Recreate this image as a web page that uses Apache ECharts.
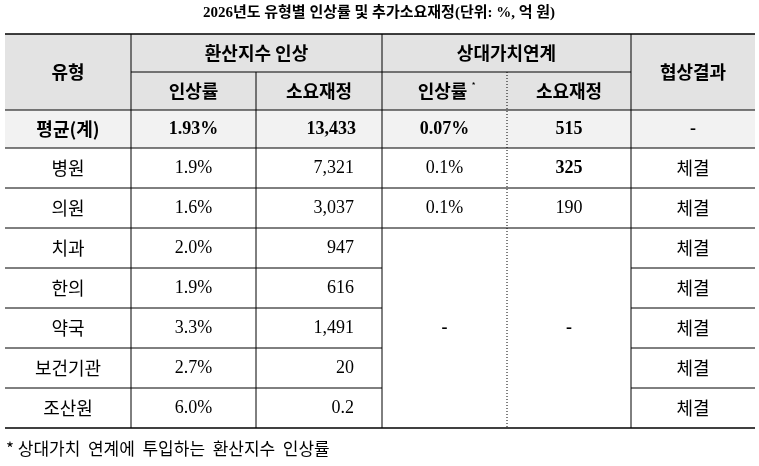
<!DOCTYPE html>
<html><head><meta charset="utf-8">
<script src="https://cdn.jsdelivr.net/npm/echarts@6/dist/echarts.min.js"></script>
<style>html,body{margin:0;background:#fff}#c{width:759px;height:466px}</style>
</head><body><div id="c"></div>
<script>
var title = '2026년도 유형별 인상률 및 추가소요재정(단위: %, 억 원)';
var types = ['병원', '의원', '치과', '한의', '약국', '보건기관', '조산원'];
var rates = ['1.9%', '1.6%', '2.0%', '1.9%', '3.3%', '2.7%', '6.0%'];
var costs = ['7,321', '3,037', '947', '616', '1,491', '20', '0.2'];
var relRates = ['0.1%', '0.1%'];
var relCosts = ['325', '190'];
var results = ['체결', '체결', '체결', '체결', '체결', '체결', '체결'];
var avg = ['평균(계)', '1.93%', '13,433', '0.07%', '515', '-'];
var footnote = '* 상대가치  연계에  투입하는  환산지수  인상률';

var colX = [5, 131, 256, 382, 507, 631, 755];
var rowY = [34, 72, 110, 148, 188, 228, 268, 308, 348, 388, 428];
var KR = '"Noto Sans CJK KR", sans-serif';
var SERIF = '"Liberation Serif", serif';
var els = [];
function rect(x, y, w, h, fill) { els.push({type: 'rect', shape: {x: x, y: y, width: w, height: h}, style: {fill: fill}}); }
function line(x1, y1, x2, y2, w, dash) { els.push({type: 'line', shape: {x1: x1, y1: y1, x2: x2, y2: y2}, style: {stroke: '#000', lineWidth: w || 1, lineDash: dash || null}}); }
function text(t, x, y, opt) {
  opt = opt || {};
  els.push({type: 'text', x: x, y: y, style: {text: t, fill: '#000', align: opt.align || 'center', verticalAlign: 'middle',
    font: (opt.bold ? 'bold ' : '') + (opt.size || 18) + 'px ' + (opt.font || KR)}});
}
function mid(i) { return (colX[i] + colX[i + 1]) / 2; }

// backgrounds
rect(5, 34, 750, 76, '#e3e3e3');
rect(5, 110, 750, 38, '#f2f2f2');

// title
text(title, 379, 13, {bold: true, size: 15, font: SERIF + ', ' + KR});

// header
text('유형', mid(0), 72, {bold: true});
text('환산지수 인상', (colX[1] + colX[3]) / 2, 53, {bold: true});
text('상대가치연계', (colX[3] + colX[5]) / 2, 53, {bold: true});
text('협상결과', mid(5), 72, {bold: true});
text('인상률', mid(1), 91, {bold: true});
text('소요재정', mid(2), 91, {bold: true});
text('인상률', mid(3) - 2, 91, {bold: true});
text('*', mid(3) + 29, 86, {size: 9});
text('소요재정', mid(4), 91, {bold: true});

// average row
var ay = 129;
text(avg[0], mid(0), ay, {bold: true});
text(avg[1], mid(1), ay, {bold: true, font: SERIF});
text(avg[2], 356, ay, {bold: true, font: SERIF, align: 'right'});
text(avg[3], mid(3), ay, {bold: true, font: SERIF});
text(avg[4], mid(4), ay, {bold: true, font: SERIF});
text(avg[5], mid(5), ay, {bold: true, font: SERIF});

// body rows
types.forEach(function (t, i) {
  var y = (rowY[3 + i] + rowY[4 + i]) / 2;
  text(t, mid(0), y);
  text(rates[i], mid(1), y, {font: SERIF});
  text(costs[i], 354, y, {font: SERIF, align: 'right'});
  if (i < relRates.length) {
    text(relRates[i], mid(3), y, {font: SERIF});
    text(relCosts[i], mid(4), y, {font: SERIF, bold: i === 0});
  }
  text(results[i], mid(5), y);
});
var mergedY = (rowY[5] + rowY[10]) / 2;
text('-', mid(3), mergedY, {bold: true, font: SERIF});
text('-', mid(4), mergedY, {bold: true, font: SERIF});

// grid lines
line(5, 34, 755, 34, 1.5);
line(colX[1], 72, colX[5], 72);
for (var r = 2; r < rowY.length; r++) {
  if (r >= 6 && r <= 9) {
    line(5, rowY[r], colX[3], rowY[r]);
    line(colX[5], rowY[r], 755, rowY[r]);
  } else {
    line(5, rowY[r], 755, rowY[r], r === 10 ? 1.5 : 1);
  }
}
[1, 2, 3, 5].forEach(function (c) {
  line(colX[c], c === 2 ? 72 : 34, colX[c], 428);
});
line(colX[4], 72, colX[4], 428, 1, [1, 2]);

// footnote
text(footnote, 6, 449, {align: 'left', size: 17});

var chart = echarts.init(document.getElementById('c'));
chart.setOption({graphic: {elements: els}});
</script></body></html>
